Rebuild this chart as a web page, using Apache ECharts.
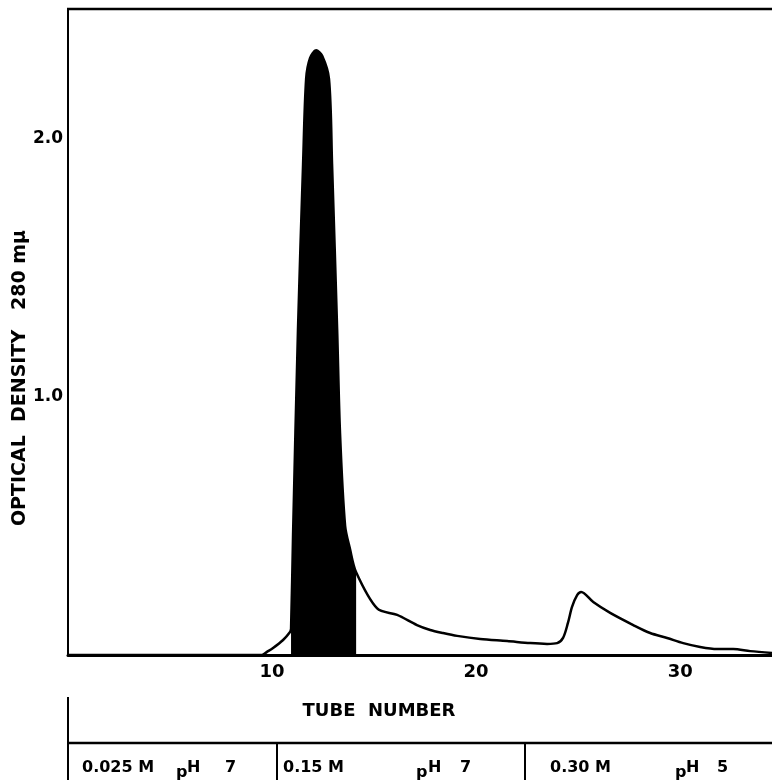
<!DOCTYPE html>
<html>
<head>
<meta charset="utf-8">
<script src="https://cdn.jsdelivr.net/npm/echarts@6/dist/echarts.min.js"></script>
<style>
html,body{margin:0;padding:0;background:#fff;}
#chart{width:772px;height:780px;}
</style>
</head>
<body>
<div id="chart"></div>
<script>
// Tube number (x) and optical density at 280 mμ (y)
const tubes = [0, 5, 9.5, 9.75, 10.05, 10.54, 10.88, 10.93, 11.03, 11.27, 11.52, 11.67, 11.86, 12.16, 12.45, 12.79, 12.94, 13.19, 13.33, 13.58, 13.82, 14.12, 15.15, 16.13, 17.1, 17.75, 18.38, 19.07, 20.2, 21.52, 22.65, 23.48, 23.97, 24.26, 24.5, 24.7, 24.95, 25.15, 25.74, 26.57, 27.7, 28.53, 29.36, 30.15, 30.98, 31.81, 32.6, 33.43, 34.5];
const density = [0, 0, 0, 0.012, 0.027, 0.058, 0.089, 0.10, 0.47, 1.26, 1.90, 2.23, 2.31, 2.34, 2.32, 2.23, 1.90, 1.26, 0.86, 0.50, 0.41, 0.32, 0.18, 0.155, 0.116, 0.097, 0.085, 0.074, 0.062, 0.054, 0.046, 0.043, 0.046, 0.066, 0.124, 0.186, 0.232, 0.244, 0.205, 0.163, 0.116, 0.085, 0.066, 0.046, 0.031, 0.023, 0.023, 0.015, 0.008];
// Pooled (shaded) fraction: tube range
const shadedRange = [10.93, 14.12];
const xTicks = [10, 20, 30];
const yTicks = [1.0, 2.0];
const bufferConc = ['0.025 M', '0.15 M', '0.30 M'];
const bufferPH = ['7', '7', '5'];

const curve = tubes.map((t, i) => [t, density[i]]);
const shaded = curve.filter(p => p[0] >= shadedRange[0] && p[0] <= shadedRange[1]);

const FONT = 'DejaVu Sans';
const chart = echarts.init(document.getElementById('chart'), null, {renderer: 'canvas'});

const gridLeft = 68, gridTop = 9, gridBottomY = 655;
const txt = (s, x, y, size, extra) => Object.assign({
  type: 'text', x: x, y: y,
  style: {text: s, fill: '#000', font: 'bold ' + size + 'px "DejaVu Sans"', verticalAlign: 'middle'}
}, extra || {});

// layout of the buffer row (text positions only)
const rowX = [[82, 176, 187, 225], [283, 416, 428, 460], [550, 675, 686, 717]];
const bufferGraphics = [];
bufferConc.forEach((c, i) => {
  const p = rowX[i];
  bufferGraphics.push(txt(c, p[0], 768, 16));
  bufferGraphics.push(txt('p', p[1], 773, 16));
  bufferGraphics.push(txt('H', p[2], 768, 16));
  bufferGraphics.push(txt(bufferPH[i], p[3], 768, 16));
});

const option = {
  backgroundColor: '#fff',
  animation: false,
  grid: {left: gridLeft, right: 0, top: gridTop, bottom: 780 - gridBottomY, containLabel: false},
  xAxis: {
    type: 'value', min: 0, max: 34.5, interval: 10,
    axisLine: {show: true, onZero: false, lineStyle: {color: '#000', width: 3}},
    axisTick: {show: false},
    splitLine: {show: false},
    axisLabel: {
      color: '#000', fontFamily: FONT, fontSize: 18, fontWeight: 'bold', margin: 8,
      formatter: v => xTicks.indexOf(v) >= 0 ? String(v) : '',
      showMaxLabel: false
    }
  },
  yAxis: {
    type: 'value', min: 0, max: 2.5, interval: 0.5,
    axisLine: {show: true, lineStyle: {color: '#000', width: 2}},
    axisTick: {show: false},
    splitLine: {show: false},
    axisLabel: {
      color: '#000', fontFamily: FONT, fontSize: 17, fontWeight: 'bold', margin: 5,
      formatter: v => yTicks.some(t => Math.abs(t - v) < 1e-9) ? v.toFixed(1) : ''
    }
  },
  series: [
    {
      type: 'line', data: shaded, symbol: 'none', smooth: 0.3,
      lineStyle: {width: 0}, areaStyle: {color: '#000', opacity: 1}, z: 2
    },
    {
      type: 'line', data: curve, symbol: 'none', smooth: 0.3,
      lineStyle: {color: '#000', width: 2.5}, z: 3
    }
  ],
  graphic: [
    {type: 'line', shape: {x1: gridLeft - 1, y1: gridTop, x2: 772, y2: gridTop}, style: {stroke: '#000', lineWidth: 2.5}},
    {type: 'text', x: 20, y: 378, rotation: Math.PI / 2,
     style: {text: 'OPTICAL  DENSITY   280 mμ', fill: '#000', font: 'bold 19px "DejaVu Sans"', align: 'center', verticalAlign: 'middle'}},
    {type: 'text', x: 379, y: 711,
     style: {text: 'TUBE  NUMBER', fill: '#000', font: 'bold 18px "DejaVu Sans"', align: 'center', verticalAlign: 'middle'}},
    {type: 'line', shape: {x1: 68, y1: 697, x2: 68, y2: 780}, style: {stroke: '#000', lineWidth: 2}},
    {type: 'line', shape: {x1: 68, y1: 743, x2: 772, y2: 743}, style: {stroke: '#000', lineWidth: 2.5}},
    {type: 'line', shape: {x1: 277, y1: 743, x2: 277, y2: 780}, style: {stroke: '#000', lineWidth: 2}},
    {type: 'line', shape: {x1: 525, y1: 743, x2: 525, y2: 780}, style: {stroke: '#000', lineWidth: 2}}
  ].concat(bufferGraphics)
};
chart.setOption(option);
</script>
</body>
</html>
